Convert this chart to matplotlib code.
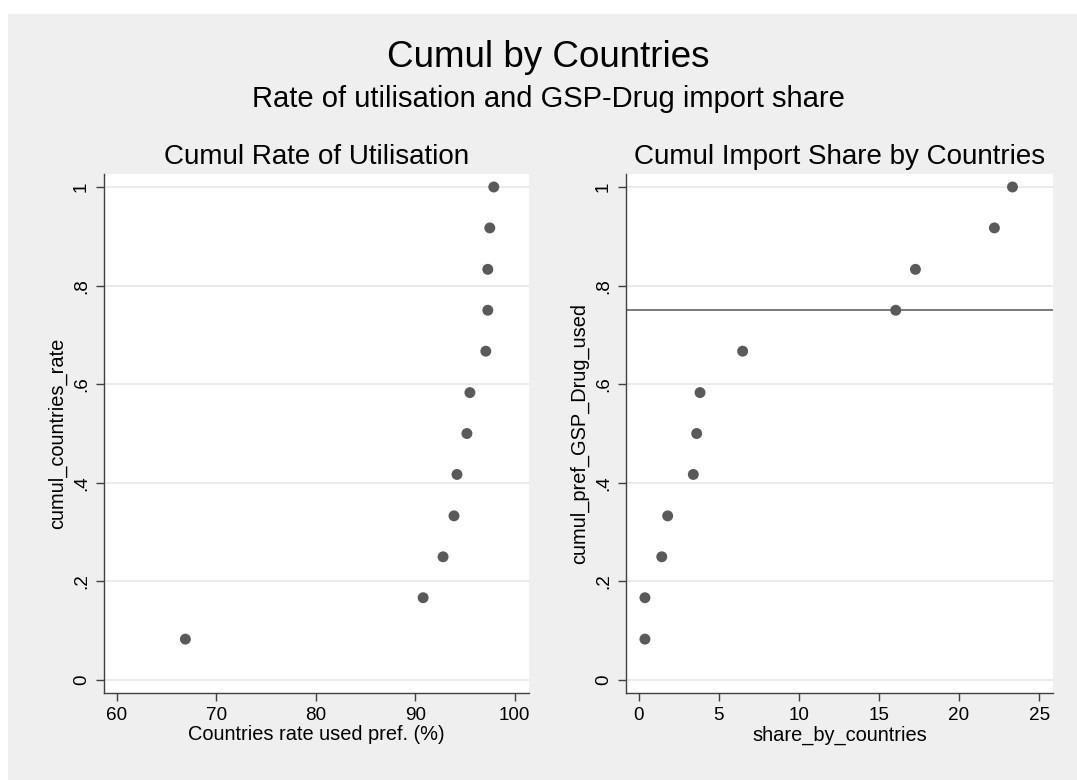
import matplotlib
matplotlib.use('Agg')
import matplotlib.pyplot as plt
from matplotlib.patches import Rectangle

plt.rcParams['font.family'] = ['Liberation Sans', 'DejaVu Sans']

# data
cumul_share = [0.083, 0.167, 0.25, 0.333, 0.417, 0.5, 0.583, 0.667, 0.75, 0.833, 0.917, 1.0]
countries_rate = [66.9, 90.8, 92.8, 93.9, 94.2, 95.2, 95.5, 97.1, 97.3, 97.3, 97.5, 97.9]
share_by_countries = [0.39, 0.39, 1.44, 1.81, 3.41, 3.62, 3.83, 6.49, 16.05, 17.28, 22.21, 23.34]
cutoff = 0.75

y_ticks = [0, 0.2, 0.4, 0.6, 0.8, 1.0]
y_tick_labels = ['0', '.2', '.4', '.6', '.8', '1']
rate_ticks = [60, 70, 80, 90, 100]
share_ticks = [0, 5, 10, 15, 20, 25]

marker_col = '#5a5a5a'
axis_col = '#404040'
grid_col = '#e6e6e6'
bg_col = '#efefef'

fig = plt.figure(figsize=(10.77, 7.8), dpi=100)
fig.patch.set_facecolor('white')
# grey graph region (white strip on top/left edge)
fig.patches.append(Rectangle((8 / 1077, 0), 1 - 8 / 1077, 1 - 14 / 780,
                             transform=fig.transFigure, facecolor=bg_col,
                             edgecolor='none', zorder=-10))

fig.text(0.509, 0.9145, 'Cumul by Countries', ha='center', va='baseline', fontsize=26.5)
fig.text(0.509, 0.8624, 'Rate of utilisation and GSP-Drug import share',
         ha='center', va='baseline', fontsize=21)

ax1 = fig.add_axes([104 / 1077, 0.1115, 425 / 1077, 0.6654])
ax2 = fig.add_axes([626 / 1077, 0.1115, 427 / 1077, 0.6654])


def style_axis(ax, xticks, xlim, title, xlabel, ylabel):
    ax.set_facecolor('white')
    ax.set_xlim(*xlim)
    ax.set_ylim(-0.0263, 1.0263)
    ax.set_xticks(xticks)
    ax.set_yticks(y_ticks)
    ax.set_yticklabels(y_tick_labels, rotation=90, va='center')
    for s in ['top', 'right']:
        ax.spines[s].set_visible(False)
    for s in ['left', 'bottom']:
        ax.spines[s].set_color(axis_col)
        ax.spines[s].set_linewidth(1.0)
    ax.tick_params(axis='both', direction='out', length=6, width=1.0,
                   color=axis_col, labelsize=13.6, pad=4)
    ax.grid(axis='y', color=grid_col, linewidth=1.2, zorder=0)
    ax.set_axisbelow(True)
    ax.set_title(title, fontsize=20, pad=7)
    ax.set_xlabel(xlabel, fontsize=14.4, labelpad=1)
    ax.set_ylabel(ylabel, fontsize=14.4, labelpad=4)


ax1.scatter(countries_rate, cumul_share, s=62, color=marker_col, edgecolors='none', zorder=3)
style_axis(ax1, rate_ticks, (58.72, 101.44), 'Cumul Rate of Utilisation',
           'Countries rate used pref. (%)', 'cumul_countries_rate')

ax2.axhline(cutoff, color='#555555', linewidth=1.1, zorder=2)
ax2.scatter(share_by_countries, cumul_share, s=62, color=marker_col, edgecolors='none', zorder=3)
style_axis(ax2, share_ticks, (-0.793, 25.87), 'Cumul Import Share by Countries',
           'share_by_countries', 'cumul_pref_GSP_Drug_used')

fig.savefig('out.png', dpi=100, facecolor=fig.get_facecolor())
